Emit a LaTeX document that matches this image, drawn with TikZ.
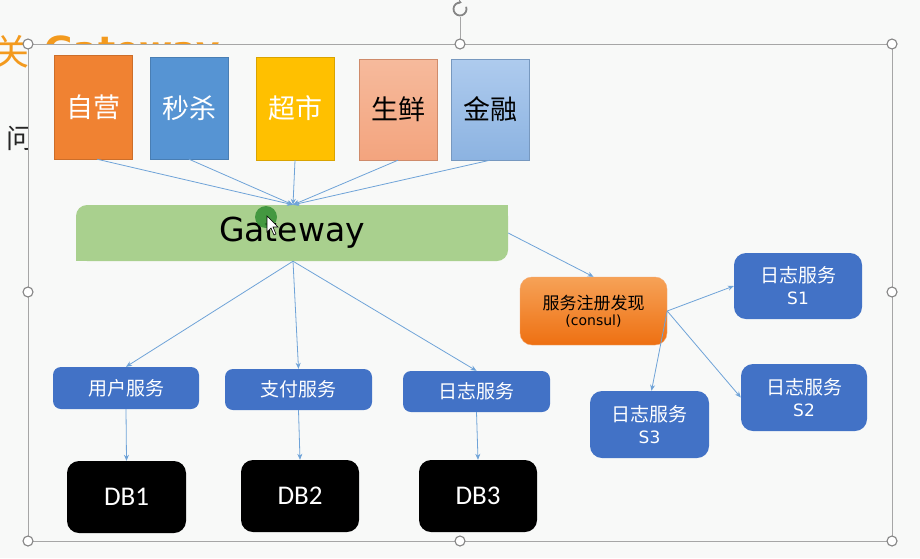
\documentclass[tikz,border=0pt]{standalone}
\usepackage{fontspec}
\setmainfont{Noto Sans CJK SC}
\newfontfamily\cjk{Noto Sans CJK SC}
\newfontfamily\dv{DejaVu Sans}
\newfontfamily\carl{Carlito}
\usetikzlibrary{arrows.meta}
\definecolor{bgc}{HTML}{F8F9F8}
\definecolor{lnc}{HTML}{6FA3D8}
\definecolor{framec}{HTML}{A6A6A6}
\definecolor{boxblue}{HTML}{4272C6}
\definecolor{orangeA}{HTML}{F08232}
\definecolor{blueB}{HTML}{5694D3}
\definecolor{yellowC}{HTML}{FFC000}
\definecolor{salmonTop}{HTML}{F6BA9C}
\definecolor{salmonBot}{HTML}{F3A47E}
\definecolor{lblueTop}{HTML}{AECBEE}
\definecolor{lblueBot}{HTML}{8CB3E1}
\definecolor{gwgreen}{HTML}{A9D08E}
\definecolor{consulTop}{HTML}{F6A257}
\definecolor{consulBot}{HTML}{EE7012}
\definecolor{titleor}{HTML}{F39A1E}
\tikzset{
  topbox/.style={inner sep=0pt, font=\cjk\fontsize{27}{30}\selectfont},
  svcbox/.style={rounded corners=8pt, fill=boxblue, text=white, inner sep=0pt, font=\cjk\fontsize{19}{22}\selectfont},
  sbox/.style={rounded corners=12pt, fill=boxblue, text=white, inner sep=0pt, align=center, font=\fontsize{19}{22}\selectfont},
  dbbox/.style={rounded corners=12pt, fill=black, text=white, inner sep=0pt, font=\carl\fontsize{27}{30}\selectfont},
  conn/.style={draw=lnc, line width=0.8pt, -{Stealth[length=6pt,width=5pt]}},
  handle/.style={draw=framec!80!black, fill=white, line width=1.1pt},
}
\begin{document}
\begin{tikzpicture}[x=1pt,y=-1pt]
\useasboundingbox (0,0) rectangle (920,558);
\fill[bgc] (0,0) rectangle (920,558);
% slide title and text partially hidden by the group
\node[anchor=east, text=titleor, inner sep=0pt, font=\cjk\fontsize{36}{40}\selectfont] (ttl) at (30,52) {关};
\node[anchor=north west, text=titleor, inner sep=0pt, font=\dv\bfseries\fontsize{36}{40}\selectfont] (ttl2) at (44,36) {Gateway};
\node[anchor=east, text=black!85, inner sep=0pt, font=\cjk\fontsize{27}{30}\selectfont] (txt) at (34,138) {问};
% group frame (filled, covers the slide text)
\fill[bgc] (28,44) rectangle (892,541);
\draw[framec, line width=1pt] (28,44) rectangle (892,541);
\draw[framec, line width=1pt] (460,44) -- (460,17);
\draw[framec!80!black, line width=1.8pt, -{Stealth[length=3.5pt,width=5pt]}] (460,9) ++(-20:6.5) arc[start angle=-20, end angle=285, radius=6.5];
\foreach \hx/\hy in {28/44,460/44,892/44,28/292,892/292,28/541,460/541,892/541}
  \filldraw[handle] (\hx,\hy) circle (5);
% top boxes
\node[topbox, fill=orangeA, draw=orangeA!85!black, text=white, minimum width=78pt, minimum height=104pt] (zy) at (93,107) {自营};
\node[topbox, fill=blueB, draw=blueB!85!black, text=white, minimum width=78pt, minimum height=102pt] (ms) at (189,108) {秒杀};
\node[topbox, fill=yellowC, draw=yellowC!85!black, text=white, minimum width=78pt, minimum height=103pt] (cs) at (295,108.5) {超市};
\node[topbox, top color=salmonTop, bottom color=salmonBot, draw=salmonBot!85!black, text=black, minimum width=78pt, minimum height=101pt] (sx) at (398,109.5) {生鲜};
\node[topbox, top color=lblueTop, bottom color=lblueBot, draw=lblueBot!85!black, text=black, minimum width=78pt, minimum height=101pt] (jr) at (490,109.5) {金融};
% gateway (round diagonal corners)
\node[rounded corners=11pt, fill=gwgreen, inner sep=0pt, minimum width=432pt, minimum height=56pt] (gw) at (292,233) {};
\fill[gwgreen] (gw.north east) rectangle ++(-16,16);
\fill[gwgreen] (gw.south west) rectangle ++(16,-16);
\node[inner sep=0pt, font=\dv\fontsize{33}{35}\selectfont] (gwt) at (gw.center) {Gateway};
% services
\node[svcbox, minimum width=146pt, minimum height=42pt] (yh) at (126,388) {用户服务};
\node[svcbox, minimum width=147pt, minimum height=41pt] (zf) at (298.5,389.5) {支付服务};
\node[svcbox, minimum width=147pt, minimum height=41pt] (rz) at (476.5,391.5) {日志服务};
% databases
\node[dbbox, minimum width=119pt, minimum height=72pt] (db1) at (126.5,497) {DB1};
\node[dbbox, minimum width=118pt, minimum height=72pt] (db2) at (300,496) {DB2};
\node[dbbox, minimum width=118pt, minimum height=72pt] (db3) at (478,496) {DB3};
% consul
\node[rounded corners=12pt, top color=consulTop, bottom color=consulBot, draw=consulBot!60!white, inner sep=0pt, align=center, minimum width=147pt, minimum height=68pt] (consul) at (593.5,311) {{\cjk\fontsize{17}{20}\selectfont 服务注册发现}\\[3pt]{\dv\fontsize{14}{17}\selectfont (consul)}};
\node[sbox, minimum width=128pt, minimum height=66pt] (s1) at (798,286) {{\cjk 日志服务}\\{\dv\fontsize{17}{20}\selectfont S1}};
\node[sbox, minimum width=126pt, minimum height=67pt] (s2) at (804,397.5) {{\cjk 日志服务}\\{\dv\fontsize{17}{20}\selectfont S2}};
\node[sbox, minimum width=119pt, minimum height=67pt] (s3) at (649.5,424.5) {{\cjk 日志服务}\\{\dv\fontsize{17}{20}\selectfont S3}};
% connectors
\coordinate (gin) at ([xshift=1pt]gw.north);
\draw[conn] ([xshift=4pt]zy.south) -- (gin);
\draw[conn] (ms.south) -- (gin);
\draw[conn] (cs.south) -- (gin);
\draw[conn] (sx.south) -- (gin);
\draw[conn] (jr.south) -- (gin);
\draw[conn] (gw.east) -- (consul.north);
\draw[conn] ([xshift=1pt]gw.south) -- (yh.north);
\draw[conn] ([xshift=1pt]gw.south) -- (zf.north);
\draw[conn] ([xshift=1pt]gw.south) -- (rz.north);
\draw[conn] (yh.south) -- (db1.north);
\draw[conn] (zf.south) -- (db2.north);
\draw[conn] (rz.south) -- (db3.north);
\draw[conn] (consul.east) -- (s1.west);
\draw[conn] (consul.east) -- (s2.west);
\draw[conn] (consul.east) -- ([xshift=2pt]s3.north);
% pointer highlight
\fill[green!45!black!80!white, opacity=0.85] (266,217) circle (11);
\filldraw[fill=white, draw=black, line width=0.6pt] (267,216) -- (267,232) -- (271,228) -- (274,235) -- (276,234) -- (273,227) -- (278,227) -- cycle;
\end{tikzpicture}
\end{document}
